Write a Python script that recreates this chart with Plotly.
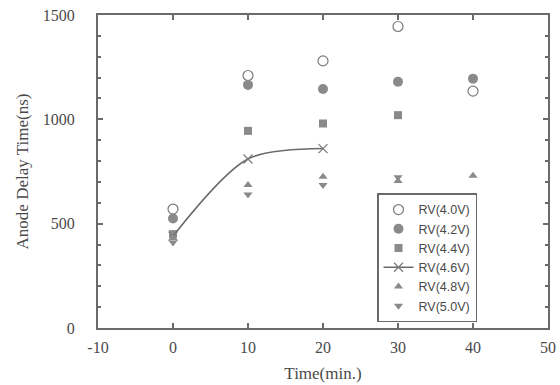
import plotly.graph_objects as go

time = [0, 10, 20, 30, 40]
rv40 = [570, 1210, 1280, 1445, 1135]
rv42 = [525, 1165, 1145, 1180, 1195]
rv44 = [450, 945, 980, 1020, None]
rv46_t = [0, 10, 20]
rv46 = [440, 810, 860]
rv48 = [430, 685, 725, 705, 730]
rv50 = [410, 640, 685, 722, None]

x_ticks = [-10, 0, 10, 20, 30, 40, 50]
x_tick_text = ["-10", "0", "10", "20", "30", "40", "50"]
y_ticks = [0, 500, 1000, 1500]

names = ["RV(4.0V)", "RV(4.2V)", "RV(4.4V)", "RV(4.6V)", "RV(4.8V)", "RV(5.0V)"]
gray = "#8a8a8a"
axis_col = "#6a6a6a"
text_col = "#4a4a4a"

fig = go.Figure()
fig.add_trace(go.Scatter(x=time, y=rv40, mode="markers", name=names[0],
                         marker=dict(symbol="circle-open", size=10, color="#7a7a7a", line=dict(width=1.2))))
fig.add_trace(go.Scatter(x=time, y=rv42, mode="markers", name=names[1],
                         marker=dict(symbol="circle", size=10, color=gray)))
fig.add_trace(go.Scatter(x=time, y=rv44, mode="markers", name=names[2],
                         marker=dict(symbol="square", size=8, color=gray)))
fig.add_trace(go.Scatter(x=rv46_t, y=rv46, mode="lines+markers", name=names[3],
                         line=dict(color="#6a6a6a", width=1.6, shape="spline", smoothing=0.85),
                         marker=dict(symbol="x-thin-open", size=9, color="#7a7a7a", line=dict(width=1.2))))
fig.add_trace(go.Scatter(x=time, y=rv48, mode="markers", name=names[4],
                         marker=dict(symbol="triangle-up", size=8, color=gray)))
fig.add_trace(go.Scatter(x=time, y=rv50, mode="markers", name=names[5],
                         marker=dict(symbol="triangle-down", size=8, color=gray)))

axis_common = dict(showline=True, linecolor=axis_col, linewidth=2, mirror="ticks",
                   ticks="inside", ticklen=5, tickcolor=axis_col, tickwidth=1.5,
                   showgrid=False, zeroline=False, automargin=False,
                   tickfont=dict(family="Liberation Serif", size=16, color=text_col))

fig.update_xaxes(range=[-10, 50], tickvals=x_ticks, ticktext=x_tick_text,
                 ticklabelstandoff=4,
                 title=dict(text="Time(min.)", font=dict(family="Liberation Serif", size=17, color=text_col), standoff=12),
                 **axis_common)
fig.update_yaxes(range=[0, 1500], tickvals=y_ticks,
                 minor=dict(dtick=100, tick0=0, ticks="inside", ticklen=3, tickcolor=axis_col),
                 ticklabelstandoff=18,
                 title=dict(text="Anode Delay Time(ns)", font=dict(family="Liberation Serif", size=17, color=text_col), standoff=10),
                 **axis_common)

fig.update_layout(
    width=560, height=385,
    margin=dict(l=98, r=12, t=15, b=57),
    plot_bgcolor="white", paper_bgcolor="white",
    showlegend=True,
    legend=dict(x=0.62, y=0.43, xanchor="left", yanchor="top",
                bgcolor="white", bordercolor=axis_col, borderwidth=1.5,
                font=dict(family="Liberation Sans", size=12.5, color=text_col),
                tracegroupgap=0, itemwidth=30),
)

fig.write_html("out.html", config={"displayModeBar": False},
               post_script="document.body.style.margin='0';")
